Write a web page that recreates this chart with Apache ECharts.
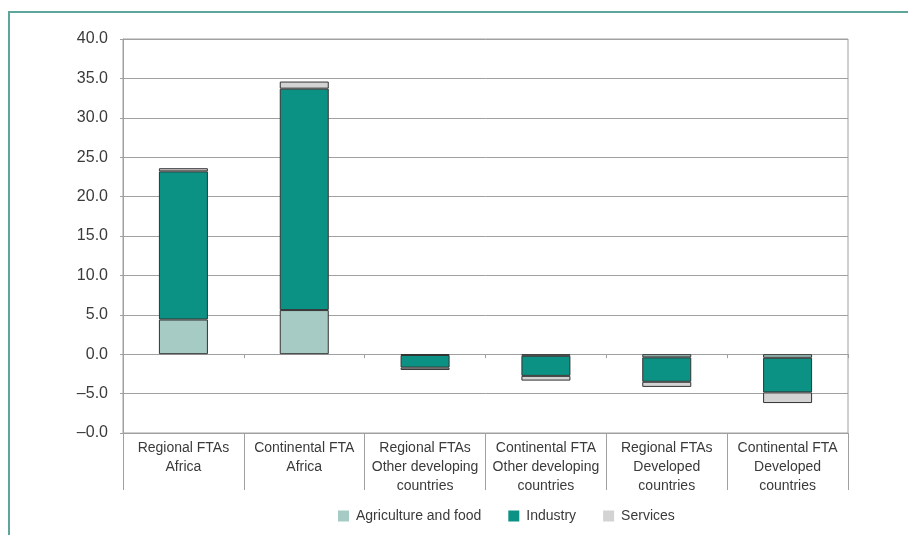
<!DOCTYPE html>
<html>
<head>
<meta charset="utf-8">
<script src="https://cdn.jsdelivr.net/npm/echarts@6/dist/echarts.min.js"></script>
<style>
html,body{margin:0;padding:0;background:#fff;}
#frame{position:absolute;left:8px;top:11px;width:920px;height:540px;border-left:2px solid #5ea59b;border-top:2px solid #5ea59b;}
#chart{position:absolute;left:0;top:0;width:908px;height:535px;}
</style>
</head>
<body>
<div id="frame"></div>
<div id="chart"></div>
<script>
var categories = [
  'Regional FTAs\nAfrica',
  'Continental FTA\nAfrica',
  'Regional FTAs\nOther developing\ncountries',
  'Continental FTA\nOther developing\ncountries',
  'Regional FTAs\nDeveloped\ncountries',
  'Continental FTA\nDeveloped\ncountries'
];
var agriculture = [4.4, 5.6, -0.1, -0.2, -0.4, -0.45];
var industry = [18.8, 28.1, -1.6, -2.55, -3.1, -4.4];
var services = [0.4, 0.9, -0.3, -0.6, -0.65, -1.35];
var yTickValues = [-10, -5, 0, 5, 10, 15, 20, 25, 30, 35, 40];
var yTickLabels = ['\u20130.0', '\u20135.0', '0.0', '5.0', '10.0', '15.0', '20.0', '25.0', '30.0', '35.0', '40.0'];
var seriesNames = ['Agriculture and food', 'Industry', 'Services'];

var colors = ['#a6cbc5', '#0b9284', '#d3d3d4'];
var fontFamily = 'Liberation Sans, Arial, sans-serif';
var textColor = '#3a3a3a';
var gridColor = '#a0a0a0';

var chart = echarts.init(document.getElementById('chart'));
function mkSeries(name, data, i) {
  return {
    name: name, type: 'bar', stack: 'total', data: data,
    xAxisIndex: 0, yAxisIndex: 0,
    barWidth: 49,
    itemStyle: { color: colors[i], borderColor: '#333', borderWidth: 1 }
  };
}
chart.setOption({
  animation: false,
  textStyle: { fontFamily: fontFamily },
  grid: { left: 123, right: 60, top: 39, bottom: 102, show: true, borderColor: gridColor, borderWidth: 1, backgroundColor: 'transparent' },
  legend: {
    bottom: 7, left: 333,
    itemWidth: 11, itemHeight: 11, itemGap: 27,
    icon: 'rect',
    itemStyle: { borderWidth: 0 },
    textStyle: { fontSize: 14, color: textColor, fontFamily: fontFamily, padding: [0, 0, 0, 2] },
    data: seriesNames
  },
  xAxis: [
    {
      type: 'category', data: categories, position: 'bottom',
      axisLine: { onZero: true, lineStyle: { color: gridColor, width: 1 } },
      axisTick: { show: true, length: 4, interval: 0, lineStyle: { color: gridColor } },
      axisLabel: { show: false },
      splitLine: { show: false }
    },
    {
      type: 'category', data: categories, position: 'bottom',
      axisLine: { onZero: false, lineStyle: { color: gridColor, width: 1 } },
      axisTick: { show: true, length: 57, interval: 0, lineStyle: { color: gridColor } },
      axisLabel: { interval: 0, fontSize: 14, color: textColor, lineHeight: 19, margin: 6, fontFamily: fontFamily },
      splitLine: { show: false }
    }
  ],
  yAxis: {
    type: 'value', min: -10, max: 40, interval: 5,
    axisLine: { show: true, lineStyle: { color: gridColor } },
    axisTick: { show: true, length: 3, lineStyle: { color: gridColor } },
    splitLine: { show: true, lineStyle: { color: gridColor, width: 1 } },
    axisLabel: {
      fontSize: 16, color: textColor, margin: 15, fontFamily: fontFamily,
      formatter: function (v) {
        var idx = yTickValues.indexOf(v);
        return idx >= 0 ? yTickLabels[idx] : '';
      }
    }
  },
  series: [
    mkSeries(seriesNames[0], agriculture, 0),
    mkSeries(seriesNames[1], industry, 1),
    mkSeries(seriesNames[2], services, 2)
  ]
});
</script>
</body>
</html>
